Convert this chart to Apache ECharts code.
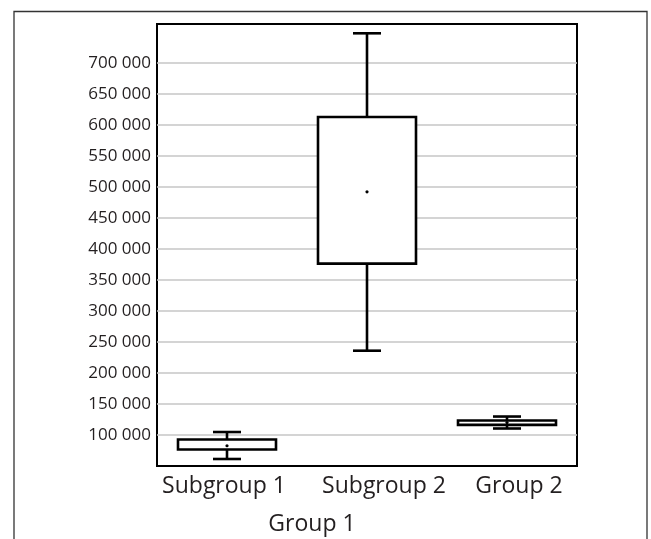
<!DOCTYPE html>
<html>
<head>
<meta charset="utf-8">
<script src="https://cdn.jsdelivr.net/npm/echarts@6/dist/echarts.min.js"></script>
<style>
html,body{margin:0;padding:0;background:#fff;}
#chart{width:651px;height:539px;}
</style>
</head>
<body>
<div id="chart"></div>
<script>
// ---- data ----
const categories = ['Subgroup 1', 'Subgroup 2', 'Group 2'];
const whiskerLow  = [61300, 236000, 110500];
const q1          = [76600, 376500, 116300];
const q3          = [92700, 613000, 123400];
const whiskerHigh = [104800, 748000, 129800];
const means       = [82700, 492300, 120000];
const yTicks = [100000, 150000, 200000, 250000, 300000, 350000, 400000,
                450000, 500000, 550000, 600000, 650000, 700000];
const groupLabel = 'Group 1';

// ---- styling constants ----
const labelShift = [-3, 17, 12];
const FONT = 'Open Sans';
const TXT = '#231f20';

const boxData = categories.map((c, i) => [i, whiskerLow[i], q1[i], q3[i], whiskerHigh[i], means[i]]);

const rich = {};
labelShift.forEach((s, i) => {
  rich['l' + i] = {
    fontFamily: FONT, fontSize: 23, color: TXT,
    padding: s >= 0 ? [0, 0, 0, 2 * s] : [0, -2 * s, 0, 0]
  };
});

const chart = echarts.init(document.getElementById('chart'), null, {renderer: 'canvas'});
chart.setOption({
  animation: false,
  backgroundColor: '#fff',
  grid: {
    left: 157, right: 74, top: 24, bottom: 73,
    show: true, borderColor: '#000', borderWidth: 2, backgroundColor: 'transparent'
  },
  xAxis: {
    type: 'category',
    data: categories,
    boundaryGap: true,
    axisLine: {show: true, lineStyle: {color: '#000', width: 2}},
    axisTick: {show: false},
    splitLine: {show: false},
    axisLabel: {
      margin: 9,
      formatter: (v, i) => '{l' + i + '|' + v + '}',
      rich: rich
    }
  },
  yAxis: {
    type: 'value',
    min: 50000,
    max: 763000,
    interval: 50000,
    axisLine: {show: true, lineStyle: {color: '#000', width: 2}},
    axisTick: {show: false},
    splitLine: {show: false},
    axisLabel: {
      margin: 6,
      fontFamily: FONT, fontSize: 17, color: TXT,
      formatter: v => yTicks.includes(v) ? String(v).replace(/\B(?=(\d{3})+(?!\d))/g, ' ') : ''
    }
  },
  graphic: [
    {
      type: 'rect', silent: true, z: 100,
      shape: {x: 14, y: 11.5, width: 633, height: 600},
      style: {fill: 'none', stroke: '#333', lineWidth: 1.3}
    },
    {
      type: 'text', x: 312, y: 513, z: 100,
      style: {text: groupLabel, fontFamily: FONT, fontSize: 23, fill: TXT, align: 'center', textAlign: 'center'}
    }
  ],
  series: [
    {
      type: 'line',
      data: [],
      z: 1,
      silent: true,
      markLine: {
        silent: true,
        symbol: 'none',
        label: {show: false},
        lineStyle: {color: '#c6c6c6', width: 1.5, type: 'solid'},
        data: yTicks.map(v => ({yAxis: v}))
      }
    },
    {
      type: 'custom',
      z: 5,
      data: boxData,
      encode: {x: 0, y: [1, 2, 3, 4, 5]},
      renderItem: function (params, api) {
        const xi = api.value(0);
        const pLow = api.coord([xi, api.value(1)]);
        const pQ1 = api.coord([xi, api.value(2)]);
        const pQ3 = api.coord([xi, api.value(3)]);
        const pHigh = api.coord([xi, api.value(4)]);
        const pMean = api.coord([xi, api.value(5)]);
        const band = api.size([1, 0])[0];
        const bw = band * 0.7;
        const cw = band * 0.2;
        const cx = pQ1[0];
        const lw = 2.6;
        const ls = {stroke: '#000', lineWidth: lw, fill: 'none'};
        return {
          type: 'group',
          children: [
            {type: 'line', shape: {x1: cx, y1: pQ3[1], x2: cx, y2: pHigh[1]}, style: ls},
            {type: 'line', shape: {x1: cx, y1: pQ1[1], x2: cx, y2: pLow[1]}, style: ls},
            {type: 'rect', shape: {x: cx - bw / 2, y: pQ3[1], width: bw, height: pQ1[1] - pQ3[1]},
              style: {fill: '#fff', stroke: '#000', lineWidth: lw}},
            {type: 'line', shape: {x1: cx - cw / 2, y1: pHigh[1], x2: cx + cw / 2, y2: pHigh[1]}, style: ls},
            {type: 'line', shape: {x1: cx - cw / 2, y1: pLow[1], x2: cx + cw / 2, y2: pLow[1]}, style: ls},
            {type: 'circle', shape: {cx: cx, cy: pMean[1], r: 1.6}, style: {fill: '#000'}}
          ]
        };
      }
    }
  ]
});
</script>
</body>
</html>
